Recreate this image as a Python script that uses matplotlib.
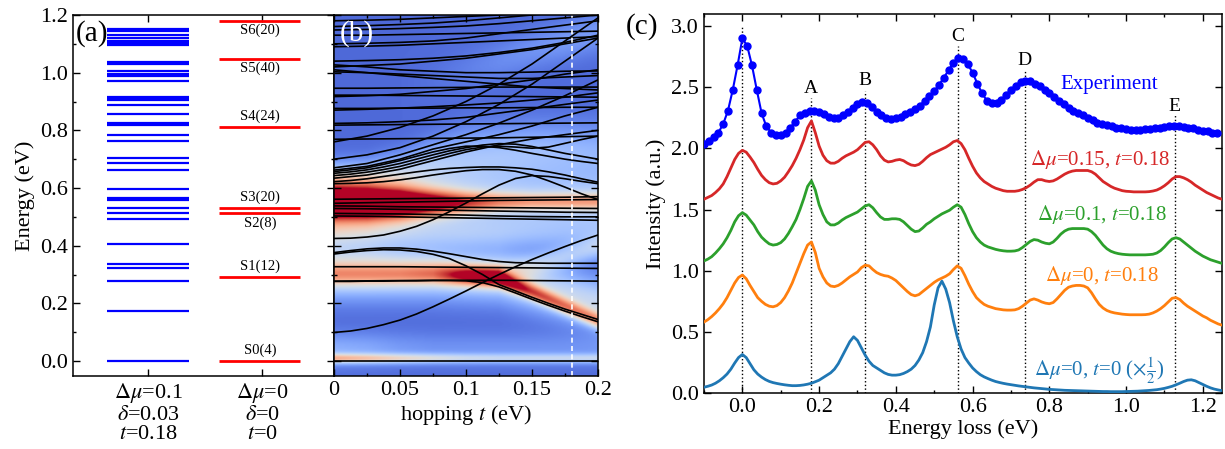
import numpy as np
import matplotlib
matplotlib.use("Agg")
import matplotlib.pyplot as plt
from matplotlib.ticker import MultipleLocator, FixedLocator, FormatStrFormatter

plt.rcParams['font.family'] = ['Liberation Serif', 'DejaVu Serif']
plt.rcParams['mathtext.fontset'] = 'stix'
plt.rcParams['font.size'] = 16

# ---------------- Panel (a) data ----------------
levels_blue = [0.0, 0.174, 0.276, 0.323, 0.337, 0.407, 0.494, 0.514, 0.529, 0.560, 0.566,
               0.596, 0.663, 0.687, 0.705, 0.763, 0.784, 0.820, 0.824, 0.855, 0.888, 0.906,
               0.910, 0.914, 0.972, 0.988, 0.996, 1.006, 1.029, 1.038, 1.097, 1.102, 1.110,
               1.121, 1.131, 1.143, 1.150]
levels_red = [0.0, 0.293, 0.515, 0.529, 0.812, 1.046, 1.178]
state_labels = ["S0(4)", "S1(12)", "S2(8)", "S3(20)", "S4(24)", "S5(40)", "S6(20)"]
state_label_y = [0.037, 0.328, 0.476, 0.567, 0.848, 1.016, 1.146]
a_ticklabels = ["$\\Delta\\mu$=0.1\n$\\delta$=0.03\n$t$=0.18",
                "$\\Delta\\mu$=0\n$\\delta$=0\n$t$=0"]

# ---------------- Panel (b) data ----------------
t_nodes = [0.0, 0.025, 0.05, 0.075, 0.1, 0.125, 0.15, 0.175, 0.2]
t_fine = [0.0, 0.0125, 0.025, 0.0375, 0.05, 0.0625, 0.075, 0.0875, 0.1, 0.1125, 0.125,
          0.1375, 0.15, 0.1625, 0.175, 0.1875, 0.2]
b_curves_fine = [
    [0.099, 0.104, 0.113, 0.126, 0.142, 0.163, 0.188, 0.215, 0.243, 0.272, 0.30, 0.327, 0.352, 0.375, 0.397, 0.418, 0.437],
    [0.276, 0.276, 0.277, 0.277, 0.278, 0.278, 0.279, 0.279, 0.278, 0.272, 0.257, 0.236, 0.214, 0.193, 0.173, 0.154, 0.136],
    [0.371, 0.378, 0.383, 0.386, 0.385, 0.38, 0.37, 0.355, 0.33, 0.30, 0.265, 0.243, 0.221, 0.20, 0.18, 0.162, 0.144],
    [0.376, 0.383, 0.389, 0.392, 0.392, 0.388, 0.381, 0.372, 0.362, 0.352, 0.345, 0.341, 0.34, 0.339, 0.339, 0.339, 0.339],
    [0.425, 0.426, 0.43, 0.437, 0.45, 0.467, 0.49, 0.518, 0.548, 0.58, 0.61, 0.633, 0.643, 0.64, 0.632, 0.623, 0.615],
    [0.615, 0.616, 0.618, 0.622, 0.628, 0.636, 0.645, 0.653, 0.66, 0.664, 0.664, 0.658, 0.645, 0.625, 0.603, 0.58, 0.56],
    [0.622, 0.626, 0.632, 0.64, 0.648, 0.656, 0.663, 0.668, 0.671, 0.673, 0.673, 0.67, 0.665, 0.656, 0.645, 0.632, 0.62],
    [0.643, 0.648, 0.655, 0.664, 0.675, 0.69, 0.705, 0.72, 0.733, 0.742, 0.745, 0.742, 0.738, 0.742, 0.755, 0.768, 0.78],
    [0.651, 0.656, 0.663, 0.673, 0.685, 0.70, 0.715, 0.729, 0.74, 0.749, 0.754, 0.752, 0.744, 0.732, 0.72, 0.71, 0.70],
    [0.657, 0.663, 0.67, 0.682, 0.695, 0.71, 0.725, 0.737, 0.745, 0.745, 0.74, 0.731, 0.72, 0.71, 0.70, 0.692, 0.685],
]
b_curves = [
    [0, 0, 0, 0, 0, 0, 0, 0, 0],
    [0.277, 0.278, 0.279, 0.28, 0.28, 0.28, 0.279, 0.278, 0.277],
    [0.327, 0.327, 0.327, 0.326, 0.325, 0.324, 0.323, 0.322, 0.321],
    [0.503, 0.502, 0.50, 0.498, 0.496, 0.494, 0.492, 0.49, 0.488],
    [0.512, 0.511, 0.51, 0.508, 0.506, 0.503, 0.501, 0.50, 0.50],
    [0.529, 0.528, 0.526, 0.524, 0.522, 0.52, 0.518, 0.516, 0.515],
    [0.538, 0.537, 0.535, 0.534, 0.533, 0.532, 0.531, 0.53, 0.529],
    [0.547, 0.549, 0.551, 0.553, 0.555, 0.557, 0.558, 0.559, 0.56],
    [0.561, 0.562, 0.563, 0.564, 0.565, 0.566, 0.567, 0.568, 0.57],
    [0.634, 0.645, 0.665, 0.695, 0.725, 0.75, 0.77, 0.785, 0.80],
    [0.662, 0.675, 0.70, 0.735, 0.76, 0.785, 0.815, 0.85, 0.88],
    [0.67, 0.685, 0.715, 0.75, 0.785, 0.825, 0.87, 0.92, 0.975],
    [0.769, 0.77, 0.771, 0.772, 0.773, 0.774, 0.776, 0.778, 0.78],
    [0.818, 0.819, 0.82, 0.821, 0.822, 0.823, 0.824, 0.825, 0.826],
    [0.824, 0.826, 0.83, 0.836, 0.845, 0.86, 0.875, 0.89, 0.905],
    [0.870, 0.873, 0.877, 0.882, 0.888, 0.895, 0.905, 0.915, 0.93],
    [0.876, 0.876, 0.877, 0.877, 0.878, 0.878, 0.879, 0.88, 0.88],
    [0.917, 0.92, 0.925, 0.935, 0.945, 0.96, 0.975, 0.995, 1.01],
    [0.922, 0.922, 0.921, 0.92, 0.919, 0.918, 0.917, 0.916, 0.915],
    [0.946, 0.946, 0.947, 0.948, 0.949, 0.95, 0.95, 0.95, 0.95],
    [1.003, 1.0, 0.995, 0.99, 0.985, 0.98, 0.98, 0.985, 0.99],
    [1.02, 1.025, 1.03, 1.04, 1.05, 1.065, 1.08, 1.10, 1.12],
    [1.027, 1.02, 1.01, 1.005, 1.0, 1.0, 1.002, 1.005, 1.006],
    [1.04, 1.042, 1.045, 1.05, 1.058, 1.07, 1.085, 1.105, 1.13],
    [1.09, 1.092, 1.095, 1.10, 1.105, 1.11, 1.115, 1.12, 1.125],
    [1.10, 1.102, 1.105, 1.11, 1.12, 1.135, 1.15, 1.165, 1.18],
    [1.13, 1.13, 1.132, 1.134, 1.136, 1.138, 1.14, 1.142, 1.144],
    [1.148, 1.15, 1.153, 1.157, 1.162, 1.17, 1.18, 1.19, 1.20],
    [1.16, 1.163, 1.167, 1.172, 1.18, 1.19, 1.20, 1.21, 1.22],
    [1.18, 1.182, 1.185, 1.19, 1.195, 1.20, 1.21, 1.22, 1.23],
    [0.70, 0.715, 0.74, 0.78, 0.83, 0.89, 0.96, 1.04, 1.12],
    [0.76, 0.78, 0.81, 0.85, 0.90, 0.96, 1.03, 1.11, 1.19],
    [1.01, 1.0, 0.99, 0.98, 0.97, 0.96, 0.95, 0.945, 0.94],
]
# intensity bands of the background map: (centres, amplitudes, widths) at t_nodes
map_base = 0.07
map_bands = [
    ([0.545, 0.545, 0.546, 0.548, 0.55, 0.552, 0.553, 0.553, 0.553],
     [1.0, 1.0, 0.95, 0.75, 0.55, 0.42, 0.36, 0.36, 0.36],
     [0.042, 0.042, 0.038, 0.032, 0.026, 0.022, 0.02, 0.02, 0.02]),
    ([0.55] * 9, [0.40, 0.40, 0.38, 0.35, 0.32, 0.30, 0.30, 0.30, 0.30], [0.065] * 9),
    ([0.30, 0.30, 0.30, 0.30, 0.295, 0.287, 0.24, 0.19, 0.14],
     [0.36, 0.36, 0.36, 0.40, 0.62, 0.74, 0.55, 0.50, 0.50],
     [0.028, 0.028, 0.027, 0.026, 0.024, 0.022, 0.02, 0.02, 0.02]),
    ([0.30, 0.30, 0.30, 0.30, 0.295, 0.29, 0.26, 0.23, 0.20], [0.35] * 9, [0.06] * 9),
    ([0.36, 0.36, 0.35, 0.34, 0.32, 0.31, 0.33, 0.36, 0.39],
     [0.10, 0.10, 0.08, 0.08, 0.10, 0.18, 0.22, 0.24, 0.24], [0.03] * 9),
    ([0.44] * 9, [0.30, 0.26, 0.22, 0.20, 0.20, 0.19, 0.17, 0.15, 0.15], [0.04] * 9),
    ([0.008] * 9, [0.50, 0.45, 0.40, 0.35, 0.30, 0.28, 0.28, 0.28, 0.28], [0.012] * 9),
    ([0.04] * 9, [0.18, 0.16, 0.12, 0.10, 0.10, 0.10, 0.10, 0.10, 0.10], [0.04] * 9),
    ([0.63, 0.635, 0.65, 0.68, 0.70, 0.71, 0.72, 0.72, 0.72],
     [0.30, 0.28, 0.26, 0.26, 0.25, 0.25, 0.24, 0.22, 0.20],
     [0.04, 0.04, 0.05, 0.06, 0.07, 0.07, 0.07, 0.07, 0.07]),
    ([0.90, 0.92, 0.95, 0.98, 1.01, 1.04, 1.08, 1.11, 1.14],
     [0.0, 0.0, 0.0, 0.02, 0.05, 0.08, 0.10, 0.12, 0.12], [0.05] * 9),
]
t_mark = 0.18

# ---------------- Panel (c) data ----------------
exp_energy = np.round(np.arange(108) * 0.0125 - 0.1, 4)
exp_intensity = [
    2.04, 2.06, 2.09, 2.13, 2.20, 2.31, 2.48, 2.68, 2.90, 2.84, 2.68, 2.48, 2.29, 2.18, 2.13, 2.11,
    2.11, 2.13, 2.17, 2.22, 2.27, 2.29, 2.31, 2.31, 2.30, 2.28, 2.26, 2.25, 2.25, 2.27, 2.30, 2.33,
    2.36, 2.38, 2.37, 2.34, 2.30, 2.27, 2.25, 2.24, 2.25, 2.26, 2.28, 2.30, 2.32, 2.35, 2.39, 2.43,
    2.47, 2.52, 2.58, 2.64, 2.70, 2.74, 2.73, 2.69, 2.62, 2.53, 2.45, 2.39, 2.37, 2.37, 2.40, 2.44,
    2.48, 2.51, 2.54, 2.55, 2.55, 2.53, 2.51, 2.48, 2.45, 2.42, 2.39, 2.36, 2.33, 2.31, 2.29, 2.27,
    2.25, 2.23, 2.21, 2.20, 2.19, 2.18, 2.17, 2.165, 2.16, 2.155, 2.155, 2.155, 2.16, 2.16, 2.165, 2.17,
    2.175, 2.18, 2.18, 2.18, 2.175, 2.17, 2.165, 2.155, 2.145, 2.14, 2.13, 2.125]

th_energy = np.round(np.arange(136) * 0.01 - 0.10, 3)
th_dmu015 = [
    1.585, 1.60, 1.615, 1.64, 1.67, 1.71, 1.77, 1.84, 1.91, 1.96,
    1.985, 1.97, 1.93, 1.885, 1.83, 1.78, 1.745, 1.72, 1.71, 1.715,
    1.735, 1.765, 1.81, 1.86, 1.92, 1.99, 2.07, 2.17, 2.225, 2.13,
    2.02, 1.945, 1.90, 1.88, 1.88, 1.895, 1.92, 1.94, 1.955, 1.97,
    1.99, 2.02, 2.05, 2.055, 2.03, 1.99, 1.94, 1.905, 1.89, 1.895,
    1.905, 1.91, 1.90, 1.88, 1.865, 1.86, 1.87, 1.895, 1.925, 1.95,
    1.965, 1.98, 1.995, 2.01, 2.03, 2.055, 2.065, 2.04, 1.99, 1.92,
    1.855, 1.80, 1.76, 1.73, 1.71, 1.69, 1.675, 1.665, 1.655, 1.65,
    1.65, 1.65, 1.655, 1.665, 1.68, 1.70, 1.725, 1.745, 1.745, 1.735,
    1.73, 1.735, 1.75, 1.77, 1.79, 1.805, 1.815, 1.82, 1.82, 1.82,
    1.82, 1.81, 1.79, 1.76, 1.73, 1.71, 1.69, 1.675, 1.665, 1.655,
    1.65, 1.648, 1.645, 1.645, 1.645, 1.645, 1.647, 1.652, 1.66, 1.675,
    1.695, 1.72, 1.75, 1.77, 1.77, 1.76, 1.745, 1.725, 1.70, 1.68,
    1.66, 1.64, 1.625, 1.61, 1.595, 1.585]
th_dmu01 = [
    1.08, 1.095, 1.115, 1.145, 1.18, 1.22, 1.27, 1.33, 1.40, 1.45,
    1.475, 1.455, 1.415, 1.375, 1.32, 1.275, 1.245, 1.22, 1.21, 1.215,
    1.23, 1.26, 1.305, 1.36, 1.42, 1.50, 1.59, 1.69, 1.735, 1.66,
    1.54, 1.46, 1.40, 1.375, 1.375, 1.39, 1.415, 1.435, 1.45, 1.465,
    1.48, 1.505, 1.53, 1.54, 1.515, 1.475, 1.44, 1.42, 1.42, 1.425,
    1.425, 1.42, 1.40, 1.37, 1.34, 1.32, 1.325, 1.35, 1.38, 1.40,
    1.425, 1.445, 1.465, 1.48, 1.495, 1.52, 1.54, 1.52, 1.46, 1.385,
    1.32, 1.27, 1.235, 1.21, 1.195, 1.185, 1.175, 1.168, 1.163, 1.16,
    1.16, 1.162, 1.17, 1.19, 1.215, 1.24, 1.255, 1.25, 1.235, 1.225,
    1.22, 1.235, 1.265, 1.30, 1.325, 1.34, 1.345, 1.345, 1.345, 1.345,
    1.34, 1.32, 1.29, 1.25, 1.21, 1.18, 1.16, 1.148, 1.14, 1.135,
    1.132, 1.13, 1.13, 1.13, 1.13, 1.13, 1.132, 1.135, 1.145, 1.165,
    1.195, 1.23, 1.26, 1.27, 1.26, 1.235, 1.21, 1.185, 1.16, 1.14,
    1.12, 1.105, 1.09, 1.08, 1.07, 1.06]
th_dmu0 = [
    0.58, 0.60, 0.625, 0.655, 0.69, 0.73, 0.78, 0.84, 0.90, 0.945,
    0.965, 0.935, 0.88, 0.83, 0.78, 0.75, 0.725, 0.71, 0.705, 0.715,
    0.74, 0.78, 0.835, 0.90, 0.98, 1.06, 1.14, 1.21, 1.235, 1.15,
    1.02, 0.95, 0.90, 0.875, 0.87, 0.88, 0.90, 0.925, 0.95, 0.97,
    0.99, 1.025, 1.045, 1.04, 1.01, 0.985, 0.97, 0.96, 0.955, 0.94,
    0.92, 0.89, 0.86, 0.83, 0.805, 0.795, 0.805, 0.83, 0.855, 0.88,
    0.905, 0.925, 0.94, 0.955, 0.975, 1.01, 1.04, 1.02, 0.96, 0.89,
    0.83, 0.78, 0.75, 0.725, 0.71, 0.70, 0.69, 0.685, 0.68, 0.678,
    0.678, 0.68, 0.69, 0.71, 0.735, 0.76, 0.77, 0.76, 0.745, 0.735,
    0.73, 0.74, 0.77, 0.805, 0.84, 0.865, 0.875, 0.88, 0.88, 0.875,
    0.86, 0.82, 0.77, 0.725, 0.695, 0.675, 0.663, 0.655, 0.65, 0.645,
    0.642, 0.64, 0.64, 0.64, 0.64, 0.641, 0.645, 0.655, 0.67, 0.69,
    0.715, 0.745, 0.775, 0.78, 0.765, 0.735, 0.71, 0.69, 0.67, 0.65,
    0.63, 0.615, 0.595, 0.58, 0.565, 0.555]
th_t0 = [
    0.047, 0.055, 0.065, 0.08, 0.10, 0.125, 0.155, 0.195, 0.245, 0.29,
    0.315, 0.29, 0.24, 0.19, 0.155, 0.13, 0.11, 0.095, 0.085, 0.078,
    0.072, 0.067, 0.063, 0.06, 0.06, 0.062, 0.066, 0.072, 0.08, 0.092,
    0.105, 0.125, 0.145, 0.165, 0.195, 0.24, 0.30, 0.36, 0.42, 0.46,
    0.43, 0.37, 0.31, 0.26, 0.225, 0.205, 0.185, 0.165, 0.152, 0.146,
    0.146, 0.15, 0.16, 0.175, 0.195, 0.225, 0.27, 0.33, 0.42, 0.54,
    0.72, 0.86, 0.915, 0.85, 0.74, 0.59, 0.46, 0.36, 0.29, 0.245,
    0.205, 0.175, 0.15, 0.132, 0.118, 0.105, 0.094, 0.086, 0.079, 0.073,
    0.068, 0.063, 0.058, 0.054, 0.05, 0.046, 0.042, 0.039, 0.036, 0.033,
    0.03, 0.028, 0.026, 0.024, 0.022, 0.021, 0.02, 0.019, 0.018, 0.017,
    0.016, 0.015, 0.014, 0.013, 0.012, 0.012, 0.011, 0.011, 0.011, 0.011,
    0.012, 0.013, 0.014, 0.015, 0.017, 0.019, 0.021, 0.024, 0.027, 0.032,
    0.038, 0.046, 0.055, 0.067, 0.08, 0.094, 0.105, 0.108, 0.10, 0.085,
    0.07, 0.055, 0.042, 0.032, 0.025, 0.019]
peak_names = ["", "A", "B", "C", "D", "E"]
peak_pos = [0.0, 0.178, 0.319, 0.562, 0.736, 1.127]
peak_line_top = [3.0, 2.41, 2.47, 2.84, 2.64, 2.28]
peak_label_y = [3.0, 2.49, 2.56, 2.92, 2.72, 2.34]

# ---------------- figure ----------------
W, H = 1225, 449
fig = plt.figure(figsize=(W / 100, H / 100), dpi=100)
ax_a = fig.add_axes([73 / W, 1 - 376 / H, 261 / W, 361 / H])
ax_b = fig.add_axes([334 / W, 1 - 376 / H, 264 / W, 361 / H])
ax_c = fig.add_axes([704 / W, 1 - 393 / H, 518 / W, 379 / H])

for ax in (ax_a, ax_b, ax_c):
    ax.tick_params(which='both', direction='in', top=True, right=True, labelsize=16, width=1)
    ax.tick_params(which='major', length=5)
    ax.tick_params(which='minor', length=2.5)
    for s in ax.spines.values():
        s.set_linewidth(1.1)

# (a)
ax_a.hlines(levels_blue, -0.36, 0.36, colors='#0000ff', lw=1.6)
ax_a.hlines(levels_red, 0.62, 1.33, colors='#ff0000', lw=2.0)
for lab, y in zip(state_labels, state_label_y):
    ax_a.text(0.98, y, lab, ha='center', va='center', fontsize=10.5)
ax_a.set_xlim(-0.658, 1.63)
ax_a.set_ylim(-0.052, 1.2)
ax_a.yaxis.set_major_locator(MultipleLocator(0.2))
ax_a.yaxis.set_minor_locator(MultipleLocator(0.1))
ax_a.yaxis.set_major_formatter(FormatStrFormatter('%.1f'))
ax_a.set_xticks([0, 1])
ax_a.set_xticklabels(a_ticklabels, linespacing=1.05)
ax_a.set_ylabel('Energy (eV)', fontsize=16, labelpad=4)
ax_a.text(0.01, 0.985, '(a)', transform=ax_a.transAxes, fontsize=21, va='top', ha='left')

# (b)
tt = np.linspace(0, 0.2, 201)
ee = np.linspace(-0.052, 1.2, 500)
img = np.full((ee.size, tt.size), map_base)
for cen, amp, wid in map_bands:
    c = np.interp(tt, t_nodes, cen)
    a = np.interp(tt, t_nodes, amp)
    w = np.interp(tt, t_nodes, wid)
    img += a[None, :] * np.exp(-(ee[:, None] - c[None, :]) ** 2 / (2 * w[None, :] ** 2))
img = np.clip(img, 0, 1)
ax_b.imshow(img, origin='lower', aspect='auto', cmap='coolwarm', vmin=0, vmax=1,
            extent=[0, 0.2, -0.052, 1.2], interpolation='bilinear')
for cv in b_curves:
    ax_b.plot(t_nodes, cv, color='black', lw=1.2)
for cv in b_curves_fine:
    ax_b.plot(t_fine, cv, color='black', lw=1.2)
ax_b.axvline(t_mark, color='white', ls='--', lw=1.2, dashes=(3, 2))
ax_b.set_xlim(0, 0.2)
ax_b.set_ylim(-0.052, 1.2)
ax_b.xaxis.set_major_locator(FixedLocator([0, 0.05, 0.1, 0.15, 0.2]))
ax_b.xaxis.set_minor_locator(MultipleLocator(0.025))
ax_b.set_xticklabels(['0', '0.05', '0.1', '0.15', '0.2'])
ax_b.yaxis.set_major_locator(MultipleLocator(0.2))
ax_b.yaxis.set_minor_locator(MultipleLocator(0.1))
ax_b.set_yticklabels([])
ax_b.set_xlabel('hopping $t$ (eV)', fontsize=16, labelpad=2)
ax_b.text(0.02, 0.985, '(b)', transform=ax_b.transAxes, fontsize=21, va='top', ha='left',
          color='white')

# (c)
for x0, ytop, name, ly in zip(peak_pos, peak_line_top, peak_names, peak_label_y):
    ax_c.plot([x0, x0], [0, ytop], color='black', ls=':', lw=1.0, zorder=1)
    if name:
        ax_c.text(x0, ly, name, ha='center', va='center', fontsize=14)
ax_c.plot(th_energy, th_t0, color='#1f77b4', lw=2, zorder=3)
ax_c.plot(th_energy, th_dmu0, color='#ff7f0e', lw=2, zorder=3)
ax_c.plot(th_energy, th_dmu01, color='#2ca02c', lw=2, zorder=3)
ax_c.plot(th_energy, th_dmu015, color='#d62728', lw=2, zorder=3)
ax_c.plot(exp_energy, exp_intensity, color='#0000ff', lw=1.5, marker='o', ms=5, zorder=4)
ax_c.text(0.955, 2.52, 'Experiment', color='#0000ff', ha='center', va='center', fontsize=15)
ax_c.text(0.931, 1.91, '$\\Delta\\mu$=0.15, $t$=0.18', color='#d62728', ha='center', va='center', fontsize=15)
ax_c.text(0.936, 1.46, '$\\Delta\\mu$=0.1, $t$=0.18', color='#2ca02c', ha='center', va='center', fontsize=15)
ax_c.text(0.936, 0.96, '$\\Delta\\mu$=0, $t$=0.18', color='#ff7f0e', ha='center', va='center', fontsize=15)
ax_c.text(0.929, 0.18, '$\\Delta\\mu$=0, $t$=0 ($\\times\\frac{1}{2}$)', color='#1f77b4',
          ha='center', va='center', fontsize=15)
ax_c.set_xlim(-0.1, 1.25)
ax_c.set_ylim(0, 3.1)
ax_c.xaxis.set_major_locator(MultipleLocator(0.2))
ax_c.xaxis.set_minor_locator(MultipleLocator(0.1))
ax_c.yaxis.set_major_locator(MultipleLocator(0.5))
ax_c.xaxis.set_major_formatter(FormatStrFormatter('%.1f'))
ax_c.yaxis.set_major_formatter(FormatStrFormatter('%.1f'))
ax_c.set_xlabel('Energy loss (eV)', fontsize=16, labelpad=2)
ax_c.set_ylabel('Intensity (a.u.)', fontsize=16, labelpad=4)
fig.text(642 / W, 1 - 27 / H, '(c)', fontsize=21, ha='center', va='center')

fig.savefig('out.png', dpi=100)
